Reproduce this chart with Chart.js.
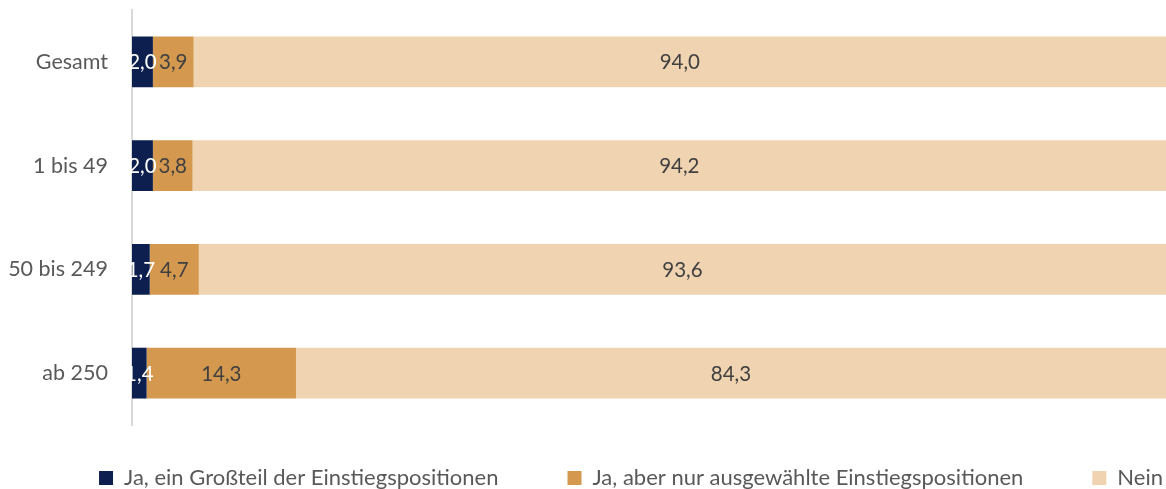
<!DOCTYPE html>
<html>
<head>
    <meta charset="UTF-8">
    <title>Einstiegspositionen</title>
    <style>
        html, body { margin: 0; padding: 0; background: #ffffff; }
        #wrap { width: 1166px; height: 489px; }
    </style>
</head>
<body>
    <div id="wrap"><canvas id="myChart"></canvas></div>
    <script src="https://cdn.jsdelivr.net/npm/chart.js"></script>
    <script>
        // data
        const categories = ["Gesamt", "1 bis 49", "50 bis 249", "ab 250"];
        const seriesNames = ["Ja, ein Großteil der Einstiegspositionen", "Ja, aber nur ausgewählte Einstiegspositionen", "Nein"];
        const grossteil = [2.0, 2.0, 1.7, 1.4];
        const ausgewaehlt = [3.9, 3.8, 4.7, 14.3];
        const nein = [94.0, 94.2, 93.6, 84.3];

        const colors = ["#0d1f4f", "#d4994e", "#f0d3b0"];
        const labelColors = ["#ffffff", "#404040", "#404040"];
        const fontFamily = 'Lato, "Liberation Sans", sans-serif';

        Chart.defaults.font.family = fontFamily;
        Chart.defaults.font.size = 21.5;
        Chart.defaults.color = "#595959";

        const legendPad = 69;
        const legendCenter = 631;

        // give the legend only the room it has in the original and move it into place
        const legendFix = {
            id: "legendFix",
            beforeLayout(chart) {
                const lg = chart.legend;
                if (lg && !lg._patched) {
                    const f = lg.fit;
                    lg.fit = function () {
                        this.maxWidth = 1400; // keep all three items on one row
                        f.call(this);
                        this.height = 64;
                    };
                    lg._patched = true;
                }
            },
            afterLayout(chart) {
                const lg = chart.legend;
                lg.top = 467 - legendPad;
                lg.bottom = 489;
                lg.height = lg.bottom - lg.top;
                lg.left = legendCenter - 700;
                lg.right = legendCenter + 700;
                lg.width = lg.right - lg.left;
            }
        };

        // value labels centred in the visible part of each segment
        const barLabels = {
            id: "barLabels",
            afterDatasetsDraw(chart) {
                const ctx = chart.ctx;
                const area = chart.chartArea;
                ctx.save();
                ctx.font = "20.5px " + fontFamily;
                ctx.textAlign = "center";
                ctx.textBaseline = "middle";
                chart.data.datasets.forEach(function (ds, i) {
                    const meta = chart.getDatasetMeta(i);
                    meta.data.forEach(function (bar, j) {
                        const l = Math.max(Math.min(bar.x, bar.base), area.left);
                        const r = Math.min(Math.max(bar.x, bar.base), area.right);
                        ctx.fillStyle = labelColors[i];
                        ctx.fillText(ds.data[j].toFixed(1).replace(".", ","), (l + r) / 2, bar.y + 1);
                    });
                });
                ctx.restore();
            }
        };

        const ctx = document.getElementById("myChart");
        const myChart = new Chart(ctx, {
            type: "bar",
            data: {
                labels: categories,
                datasets: [
                    { label: seriesNames[0], data: grossteil, backgroundColor: colors[0] },
                    { label: seriesNames[1], data: ausgewaehlt, backgroundColor: colors[1] },
                    { label: seriesNames[2], data: nein, backgroundColor: colors[2] }
                ]
            },
            options: {
                indexAxis: "y",
                responsive: true,
                maintainAspectRatio: false,
                animation: false,
                layout: { padding: { top: 10, left: 0, right: 0, bottom: 0 } },
                datasets: {
                    bar: { barPercentage: 0.49, categoryPercentage: 1, borderWidth: 0 }
                },
                scales: {
                    x: {
                        stacked: true,
                        min: 0,
                        max: 99,
                        display: false
                    },
                    y: {
                        stacked: true,
                        grid: { display: false },
                        border: { display: true, color: "#d9d9d9", width: 2 },
                        ticks: { padding: 16, color: "#595959", font: { size: 21.5 } },
                        afterFit(scale) {
                            scale.width = 132;
                            scale.paddingTop = 0;
                            scale.paddingBottom = 0;
                        }
                    }
                },
                plugins: {
                    tooltip: { enabled: false },
                    legend: {
                        position: "bottom",
                        labels: {
                            boxWidth: 14,
                            boxHeight: 14,
                            padding: legendPad,
                            color: "#595959",
                            font: { size: 22 }
                        }
                    }
                }
            },
            plugins: [legendFix, barLabels]
        });
    </script>
</body>
</html>
